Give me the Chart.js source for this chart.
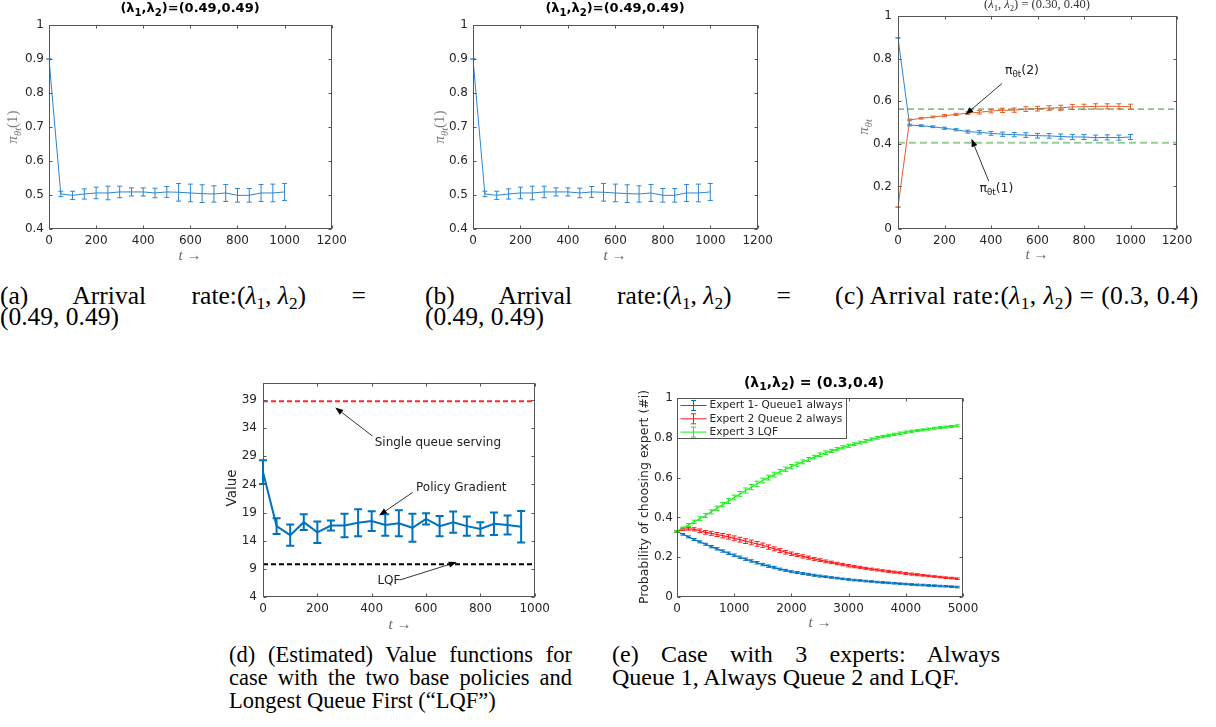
<!DOCTYPE html>
<html>
<head>
<meta charset="utf-8">
<script src="https://cdn.jsdelivr.net/npm/chart.js@4.4.1/dist/chart.umd.min.js"></script>
<style>
  body { margin: 0; background: #fff; width: 1216px; height: 727px; position: relative; overflow: hidden; }
  canvas { position: absolute; }
  .cap { position: absolute; font-family: "Liberation Serif", "DejaVu Serif", serif; color: #000; white-space: nowrap; }
  .cap.top { font-size: 25.5px; line-height: 20.5px; }
  .cap.d { font-size: 22.5px; line-height: 23px; }
  .cap.e { font-size: 24px; line-height: 23px; }
  .cap .j { text-align: justify; text-align-last: justify; }
  .cap .m { display: inline-block; }
  .cap i { font-family: "Liberation Serif", serif; }
  .cap sub { font-size: 0.68em; vertical-align: -0.28em; line-height: 0; }
</style>
</head>
<body>
<canvas id="ca" width="352" height="265" style="left:0;top:0"></canvas>
<canvas id="cb" width="368" height="265" style="left:410px;top:0"></canvas>
<canvas id="cc" width="376" height="265" style="left:840px;top:0"></canvas>
<canvas id="cd" width="345" height="270" style="left:210px;top:370px"></canvas>
<canvas id="ce" width="370" height="270" style="left:615px;top:370px"></canvas>

<div class="cap top" style="left:0;top:286px;width:366px">
  <div class="j">(a) Arrival <span class="m">rate:(<i>λ</i><sub>1</sub>, <i>λ</i><sub>2</sub>)</span> =</div>
  <div>(0.49, 0.49)</div>
</div>
<div class="cap top" style="left:425px;top:286px;width:366px">
  <div class="j">(b) Arrival <span class="m">rate:(<i>λ</i><sub>1</sub>, <i>λ</i><sub>2</sub>)</span> =</div>
  <div>(0.49, 0.49)</div>
</div>
<div class="cap top" style="left:835px;top:286px;letter-spacing:0.4px">
  <div>(c) Arrival rate:(<i>λ</i><sub>1</sub>, <i>λ</i><sub>2</sub>) = (0.3, 0.4)</div>
</div>
<div class="cap d" style="left:229px;top:643px;width:343px">
  <div class="j">(d) (Estimated) Value functions for</div>
  <div class="j">case with the two base policies and</div>
  <div>Longest Queue First (“LQF”)</div>
</div>
<div class="cap e" style="left:612px;top:643px;width:388px">
  <div class="j">(e) Case with 3 experts: Always</div>
  <div>Queue 1, Always Queue 2 and LQF.</div>
</div>

<script>
// ===== DATA =====
// (a), (b): lambda = (0.49, 0.49)
const tA = [0, 50, 100, 150, 200, 250, 300, 350, 400, 450, 500, 550, 600, 650, 700, 750, 800, 850, 900, 950, 1000];
const piA = [0.9, 0.503, 0.499, 0.503, 0.506, 0.506, 0.509, 0.509, 0.509, 0.506, 0.509, 0.508, 0.506, 0.504, 0.503, 0.506, 0.499, 0.499, 0.506, 0.506, 0.509];
const errA = [0, 0.008, 0.012, 0.015, 0.017, 0.02, 0.017, 0.012, 0.012, 0.014, 0.016, 0.026, 0.026, 0.026, 0.024, 0.025, 0.02, 0.02, 0.025, 0.026, 0.025];
const piB = piA;
const errB = errA;
const xTicksAB = [0, 200, 400, 600, 800, 1000, 1200];
const yTicksAB = [0.4, 0.5, 0.6, 0.7, 0.8, 0.9, 1];

// (c): lambda = (0.30, 0.40)
const tC = tA;
const piC1 = [0.897, 0.488, 0.485, 0.48, 0.473, 0.466, 0.457, 0.454, 0.449, 0.445, 0.443, 0.441, 0.438, 0.437, 0.434, 0.432, 0.432, 0.429, 0.43, 0.429, 0.432];
const errC1 = [0, 0.004, 0.004, 0.004, 0.005, 0.005, 0.007, 0.008, 0.009, 0.01, 0.01, 0.011, 0.011, 0.011, 0.012, 0.012, 0.012, 0.012, 0.012, 0.012, 0.012];
const piC2 = [0.103, 0.512, 0.52, 0.526, 0.532, 0.538, 0.544, 0.548, 0.554, 0.557, 0.558, 0.563, 0.565, 0.568, 0.569, 0.573, 0.574, 0.576, 0.576, 0.576, 0.574];
const errC2 = [0, 0.004, 0.004, 0.004, 0.005, 0.005, 0.006, 0.008, 0.009, 0.01, 0.01, 0.011, 0.011, 0.011, 0.012, 0.012, 0.012, 0.012, 0.012, 0.012, 0.012];
const refXC = [0, 1200];
const refC2 = [0.563, 0.563];
const refC1 = [0.405, 0.405];
const xTicksC = [0, 200, 400, 600, 800, 1000, 1200];
const yTicksC = [0, 0.2, 0.4, 0.6, 0.8, 1];

// (d): value functions
const tD = [0, 50, 100, 150, 200, 250, 300, 350, 400, 450, 500, 550, 600, 650, 700, 750, 800, 850, 900, 950];
const valD = [26.2, 16.6, 15.0, 17.3, 15.5, 16.7, 16.7, 17.2, 17.5, 16.8, 17.1, 16.3, 17.9, 16.6, 17.3, 16.6, 16.1, 17.0, 16.8, 16.5];
const errD = [2.1, 1.4, 1.9, 1.4, 1.9, 0.9, 2.1, 2.4, 1.75, 1.9, 2.3, 2.5, 1.0, 1.8, 1.9, 1.7, 1.2, 2.0, 1.7, 2.8];
const refXD = [0, 1000];
const singleQueueD = [38.8, 38.8];
const lqfD = [9.8, 9.8];
const xTicksD = [0, 200, 400, 600, 800, 1000];
const yTicksD = [4, 9, 14, 19, 24, 29, 34, 39];

// (e): three experts
const tE = [0, 100, 200, 300, 400, 500, 600, 700, 800, 900, 1000, 1100, 1200, 1300, 1400, 1500, 1600, 1700, 1800, 1900,
  2000, 2100, 2200, 2300, 2400, 2500, 2600, 2700, 2800, 2900, 3000, 3100, 3200, 3300, 3400, 3500, 3600, 3700, 3800, 3900,
  4000, 4100, 4200, 4300, 4400, 4500, 4600, 4700, 4800, 4900];
const expert1 = [0.330, 0.315, 0.302, 0.289, 0.277, 0.265, 0.253, 0.242, 0.231, 0.220, 0.210, 0.200, 0.190, 0.181, 0.172, 0.163, 0.155, 0.148, 0.140, 0.134,
  0.127, 0.123, 0.118, 0.114, 0.109, 0.105, 0.102, 0.098, 0.095, 0.091, 0.088, 0.085, 0.083, 0.080, 0.078, 0.075, 0.073, 0.071, 0.069, 0.067,
  0.065, 0.063, 0.061, 0.060, 0.058, 0.057, 0.055, 0.054, 0.052, 0.050];
const expert2 = [0.330, 0.340, 0.343, 0.340, 0.333, 0.325, 0.320, 0.314, 0.308, 0.302, 0.295, 0.288, 0.281, 0.274, 0.267, 0.260, 0.251, 0.242, 0.234, 0.225,
  0.217, 0.211, 0.204, 0.198, 0.191, 0.185, 0.179, 0.174, 0.168, 0.163, 0.157, 0.153, 0.149, 0.144, 0.140, 0.136, 0.132, 0.129, 0.125, 0.122,
  0.118, 0.115, 0.112, 0.109, 0.106, 0.103, 0.100, 0.097, 0.095, 0.092];
const expert3 = [0.330, 0.345, 0.362, 0.378, 0.394, 0.410, 0.428, 0.446, 0.464, 0.482, 0.500, 0.518, 0.535, 0.552, 0.569, 0.585, 0.600, 0.615, 0.629, 0.642,
  0.655, 0.667, 0.679, 0.691, 0.703, 0.715, 0.725, 0.734, 0.743, 0.752, 0.760, 0.768, 0.776, 0.784, 0.792, 0.800, 0.806, 0.812, 0.817, 0.823,
  0.828, 0.832, 0.836, 0.840, 0.844, 0.848, 0.851, 0.854, 0.857, 0.860];
const errE1 = [0.004, 0.004, 0.005, 0.005, 0.005, 0.005, 0.006, 0.006, 0.006, 0.006, 0.006, 0.006, 0.006, 0.006, 0.006, 0.006, 0.006, 0.006, 0.005, 0.005,
  0.005, 0.005, 0.005, 0.005, 0.005, 0.005, 0.004, 0.004, 0.004, 0.004, 0.004, 0.004, 0.004, 0.004, 0.004, 0.004, 0.004, 0.004, 0.004, 0.004,
  0.004, 0.004, 0.004, 0.004, 0.004, 0.004, 0.004, 0.004, 0.004, 0.004];
const errE2 = [0.004, 0.006, 0.007, 0.008, 0.009, 0.009, 0.010, 0.010, 0.011, 0.011, 0.012, 0.012, 0.012, 0.012, 0.012, 0.011, 0.011, 0.010, 0.010, 0.009,
  0.009, 0.008, 0.008, 0.008, 0.007, 0.007, 0.007, 0.006, 0.006, 0.006, 0.006, 0.006, 0.005, 0.005, 0.005, 0.005, 0.005, 0.005, 0.005, 0.005,
  0.005, 0.005, 0.005, 0.004, 0.004, 0.004, 0.004, 0.004, 0.004, 0.004];
const errE3 = [0.004, 0.006, 0.007, 0.008, 0.009, 0.010, 0.010, 0.011, 0.011, 0.012, 0.012, 0.012, 0.013, 0.013, 0.013, 0.012, 0.012, 0.012, 0.011, 0.011,
  0.011, 0.010, 0.010, 0.010, 0.009, 0.009, 0.009, 0.008, 0.008, 0.008, 0.008, 0.007, 0.007, 0.007, 0.007, 0.007, 0.006, 0.006, 0.006, 0.006,
  0.006, 0.006, 0.005, 0.005, 0.005, 0.005, 0.005, 0.005, 0.005, 0.005];
const expertLabels = ['Expert 1- Queue1 always', 'Expert 2 Queue 2 always', 'Expert 3 LQF'];
const xTicksE = [0, 1000, 2000, 3000, 4000, 5000];
const yTicksE = [0, 0.2, 0.4, 0.6, 0.8, 1];

// ===== HELPERS =====
const SANS = '"DejaVu Sans", sans-serif';
const SERIF = '"Liberation Serif", "DejaVu Serif", serif';
const TICK = '#262626';

function pts(xs, ys) {
    return xs.map((x, i) => ({ x: x, y: ys[i] }));
}

function fmt(v) {
    return String(Math.round(v * 100) / 100);
}

function axes(c) {
    return {
        x: {
            type: 'linear', min: c.xmin, max: c.xmax,
            grid: { display: false, drawTicks: false }, border: { display: false },
            afterBuildTicks: s => { s.ticks = c.xt.map(v => ({ value: v })); },
            afterFit: s => { s.height = c.xh; },
            ticks: { color: TICK, font: { family: SANS, size: 12 }, padding: 5, maxRotation: 0, autoSkip: false, callback: fmt }
        },
        y: {
            type: 'linear', min: c.ymin, max: c.ymax,
            grid: { display: false, drawTicks: false }, border: { display: false },
            afterBuildTicks: s => { s.ticks = c.yt.map(v => ({ value: v })); },
            afterFit: s => { s.width = c.yw; },
            ticks: { color: TICK, font: { family: SANS, size: 12 }, padding: c.yp, autoSkip: false, callback: fmt }
        }
    };
}

// rich text with subscripts: parts = [[text, 's' for subscript, italic]]
function richText(ctx, t, x, y) {
    ctx.save();
    ctx.translate(x, y);
    if (t.rot) ctx.rotate(t.rot);
    ctx.fillStyle = t.color || '#000';
    ctx.textBaseline = 'middle';
    ctx.textAlign = 'left';
    const sr = t.subRatio || 0.7;
    const font = (s, it) => `${it ? 'italic ' : ''}${t.weight || 'normal'} ${s}px ${t.family || SANS}`;
    const size = p => p[1] === 's' ? t.size * sr : t.size;
    let w = 0;
    t.parts.forEach(p => { ctx.font = font(size(p), p[2]); w += ctx.measureText(p[0]).width; });
    let cx = t.align === 'left' ? 0 : -w / 2;
    t.parts.forEach(p => {
        ctx.font = font(size(p), p[2]);
        ctx.fillText(p[0], cx, p[1] === 's' ? t.size * 0.32 : 0);
        cx += ctx.measureText(p[0]).width;
    });
    ctx.restore();
}

function arrow(ctx, x1, y1, x2, y2) {
    const a = Math.atan2(y2 - y1, x2 - x1);
    ctx.beginPath();
    ctx.moveTo(x1, y1);
    ctx.lineTo(x2 - 5 * Math.cos(a), y2 - 5 * Math.sin(a));
    ctx.stroke();
    ctx.beginPath();
    ctx.moveTo(x2, y2);
    ctx.lineTo(x2 - 8 * Math.cos(a) + 3 * Math.sin(a), y2 - 8 * Math.sin(a) - 3 * Math.cos(a));
    ctx.lineTo(x2 - 8 * Math.cos(a) - 3 * Math.sin(a), y2 - 8 * Math.sin(a) + 3 * Math.cos(a));
    ctx.closePath();
    ctx.fill();
}

// ===== PLUGINS =====
const errorBars = {
    id: 'errorBars',
    afterDatasetsDraw(chart) {
        const ctx = chart.ctx, xs = chart.scales.x, ys = chart.scales.y;
        chart.data.datasets.forEach(ds => {
            if (!ds.err) return;
            ctx.save();
            ctx.strokeStyle = ds.borderColor;
            ctx.lineWidth = ds.errWidth || 1;
            const c = ds.cap || 2.5;
            ds.data.forEach((p, j) => {
                const px = xs.getPixelForValue(p.x);
                const lo = ys.getPixelForValue(p.y - ds.err[j]);
                const hi = ys.getPixelForValue(p.y + ds.err[j]);
                ctx.beginPath();
                ctx.moveTo(px, lo); ctx.lineTo(px, hi);
                ctx.moveTo(px - c, lo); ctx.lineTo(px + c, lo);
                ctx.moveTo(px - c, hi); ctx.lineTo(px + c, hi);
                ctx.stroke();
            });
            ctx.restore();
        });
    }
};

const decor = {
    id: 'decor',
    afterDraw(chart, args, o) {
        const ctx = chart.ctx, xs = chart.scales.x, ys = chart.scales.y, a = chart.chartArea;
        // MATLAB style box with inward ticks
        ctx.save();
        ctx.strokeStyle = '#555';
        ctx.lineWidth = 1;
        const L = Math.round(a.left) + 0.5, R = Math.round(a.right) - 0.5;
        const T = Math.round(a.top) + 0.5, B = Math.round(a.bottom) - 0.5;
        ctx.strokeRect(L, T, R - L, B - T);
        ctx.beginPath();
        xs.ticks.forEach(t => {
            const px = Math.round(xs.getPixelForValue(t.value)) + 0.5;
            ctx.moveTo(px, B); ctx.lineTo(px, B - 3);
            ctx.moveTo(px, T); ctx.lineTo(px, T + 3);
        });
        ys.ticks.forEach(t => {
            const py = Math.round(ys.getPixelForValue(t.value)) + 0.5;
            ctx.moveTo(L, py); ctx.lineTo(L + 3, py);
            ctx.moveTo(R, py); ctx.lineTo(R - 3, py);
        });
        ctx.stroke();
        ctx.restore();

        // arrows in data coordinates
        ctx.save();
        ctx.strokeStyle = '#000';
        ctx.fillStyle = '#000';
        ctx.lineWidth = 0.8;
        (o.arrows || []).forEach(r => {
            arrow(ctx, xs.getPixelForValue(r[0]), ys.getPixelForValue(r[1]),
                xs.getPixelForValue(r[2]), ys.getPixelForValue(r[3]));
        });
        ctx.restore();

        // texts: data coords when t.data, otherwise page coords
        (o.texts || []).forEach(t => {
            const x = t.data ? xs.getPixelForValue(t.x) : t.x - o.ox;
            const y = t.data ? ys.getPixelForValue(t.y) : t.y - o.oy;
            richText(ctx, t, x, y);
        });

        // legend box
        if (o.legend) {
            const g = o.legend;
            const x0 = Math.round(a.left) + 0.5, y0 = Math.round(a.top) + 0.5;
            ctx.save();
            ctx.fillStyle = '#fff';
            ctx.fillRect(x0, y0, g.w, g.h);
            ctx.strokeStyle = '#555';
            ctx.lineWidth = 1;
            ctx.strokeRect(x0, y0, g.w, g.h);
            ctx.font = `${g.size}px ${SANS}`;
            ctx.textBaseline = 'middle';
            chart.data.datasets.forEach((ds, i) => {
                const yy = y0 + g.first + i * g.row;
                ctx.strokeStyle = ds.borderColor;
                ctx.beginPath();
                ctx.moveTo(x0 + 3, yy); ctx.lineTo(x0 + 29, yy);
                ctx.moveTo(x0 + 16, yy - 5); ctx.lineTo(x0 + 16, yy + 5);
                ctx.moveTo(x0 + 13.5, yy - 5); ctx.lineTo(x0 + 18.5, yy - 5);
                ctx.moveTo(x0 + 13.5, yy + 5); ctx.lineTo(x0 + 18.5, yy + 5);
                ctx.stroke();
                ctx.fillStyle = '#262626';
                ctx.fillText(ds.label, x0 + 32, yy);
            });
            ctx.restore();
        }
    }
};

function baseOptions(c, deco) {
    return {
        responsive: false,
        animation: false,
        devicePixelRatio: 1,
        layout: { padding: { top: c.pt, right: c.pr, left: 0, bottom: 0 } },
        scales: axes(c),
        plugins: { legend: { display: false }, tooltip: { enabled: false }, decor: deco },
        elements: { point: { radius: 0 }, line: { tension: 0 } }
    };
}

function lineSet(label, xs, ys, color, width, err, extra) {
    return Object.assign({
        label: label, data: pts(xs, ys), borderColor: color, backgroundColor: color,
        borderWidth: width, pointRadius: 0, fill: false, err: err
    }, extra || {});
}

const tLabel = (x, y) => ({ parts: [['t', '', true], [' →', '']], x: x, y: y, size: 15, family: SERIF, color: '#666' });
const piLabel = (x, y, tail) => ({
    parts: [['π', '', true], ['θ', 's', true], ['t', 's', true], [tail, '']],
    x: x, y: y, size: 15, family: SERIF, color: '#777', rot: -Math.PI / 2
});
const boldLambdaTitle = (x, y, rest, size) => ({
    parts: [['(λ', ''], ['1', 's'], [',λ', ''], ['2', 's'], [rest, '']],
    x: x, y: y, size: size, weight: 'bold', color: '#000', subRatio: 0.78
});

const BLUE = '#2c86cf';

// ===== (a) =====
new Chart(document.getElementById('ca'), {
    type: 'line',
    data: { datasets: [lineSet('pi1', tA, piA, BLUE, 1, errA)] },
    options: baseOptions(
        { xmin: 0, xmax: 1200, xt: xTicksAB, ymin: 0.4, ymax: 1, yt: yTicksAB, yw: 49, xh: 36, yp: 5, pt: 25, pr: 20 },
        { ox: 0, oy: 0, texts: [boldLambdaTitle(190, 9, ')=(0.49,0.49)', 13), piLabel(13, 127, '(1)'), tLabel(190, 256)] }
    ),
    plugins: [errorBars, decor]
});

// ===== (b) =====
new Chart(document.getElementById('cb'), {
    type: 'line',
    data: { datasets: [lineSet('pi1', tA, piB, BLUE, 1, errB)] },
    options: baseOptions(
        { xmin: 0, xmax: 1200, xt: xTicksAB, ymin: 0.4, ymax: 1, yt: yTicksAB, yw: 63, xh: 36, yp: 5, pt: 25, pr: 20 },
        { ox: 410, oy: 0, texts: [boldLambdaTitle(615, 9, ')=(0.49,0.49)', 13), piLabel(440, 127, '(1)'), tLabel(615, 256)] }
    ),
    plugins: [errorBars, decor]
});

// ===== (c) =====
new Chart(document.getElementById('cc'), {
    type: 'line',
    data: {
        datasets: [
            lineSet('ref2', refXC, refC2, '#3a8a3a', 1, null, { borderDash: [6, 4] }),
            lineSet('ref1', refXC, refC1, '#96cf96', 2, null, { borderDash: [7, 4] }),
            lineSet('pi1', tC, piC1, '#2c86cf', 1, errC1),
            lineSet('pi2', tC, piC2, '#e0602a', 1, errC2)
        ]
    },
    options: baseOptions(
        { xmin: 0, xmax: 1200, xt: xTicksC, ymin: 0, ymax: 1, yt: yTicksC, yw: 58, xh: 36, yp: 6, pt: 16, pr: 39 },
        {
            ox: 840, oy: 0,
            arrows: [[447, 0.683, 290, 0.537], [390, 0.225, 316, 0.424]],
            texts: [
                { parts: [['(', ''], ['λ', '', true], ['1', 's'], [', ', ''], ['λ', '', true], ['2', 's'], [') = (0.30, 0.40)', '']],
                  x: 1037, y: 5, size: 12.5, family: SERIF, color: '#333' },
                { parts: [['π', '', true], ['θ', 's', true], ['t', 's', true]], x: 864, y: 127, size: 15, family: SERIF, color: '#777', rot: -Math.PI / 2 },
                tLabel(1037, 255),
                { data: true, parts: [['π', ''], ['θ', 's'], ['t', 's'], ['(2)', '']], x: 460, y: 0.745, size: 12.5, color: '#222', align: 'left' },
                { data: true, parts: [['π', ''], ['θ', 's'], ['t', 's'], ['(1)', '']], x: 350, y: 0.187, size: 12.5, color: '#222', align: 'left' }
            ]
        }
    ),
    plugins: [errorBars, decor]
});

// ===== (d) =====
new Chart(document.getElementById('cd'), {
    type: 'line',
    data: {
        datasets: [
            lineSet('Single queue serving', refXD, singleQueueD, '#ff2a2a', 2, null, { borderDash: [5, 3] }),
            lineSet('LQF', refXD, lqfD, '#000', 2, null, { borderDash: [5, 3] }),
            lineSet('Policy Gradient', tD, valD, '#0072BD', 2, errD, { errWidth: 2, cap: 4 })
        ]
    },
    options: baseOptions(
        { xmin: 0, xmax: 1000, xt: xTicksD, ymin: 4, ymax: 42, yt: yTicksD, yw: 53, xh: 43, yp: 6, pt: 9, pr: 18 },
        {
            ox: 210, oy: 370,
            arrows: [[403, 32.6, 266, 37.7], [551, 22.6, 427, 18.5], [502, 7.0, 713, 10.2]],
            texts: [
                { parts: [['Value', '']], x: 232, y: 488, size: 13.5, color: '#262626', rot: -Math.PI / 2 },
                tLabel(400, 625),
                { data: true, parts: [['Single queue serving', '']], x: 411, y: 31.4, size: 12, color: '#222', align: 'left' },
                { data: true, parts: [['Policy Gradient', '']], x: 563, y: 23.4, size: 12, color: '#222', align: 'left' },
                { data: true, parts: [['LQF', '']], x: 421, y: 6.85, size: 12, color: '#222', align: 'left' }
            ]
        }
    ),
    plugins: [errorBars, decor]
});

// ===== (e) =====
new Chart(document.getElementById('ce'), {
    type: 'line',
    data: {
        datasets: [
            lineSet(expertLabels[0], tE, expert1, '#0072BD', 1.2, errE1),
            lineSet(expertLabels[1], tE, expert2, '#ff1a1a', 1.2, errE2),
            lineSet(expertLabels[2], tE, expert3, '#1aee1a', 1.2, errE3)
        ]
    },
    options: baseOptions(
        { xmin: 0, xmax: 5000, xt: xTicksE, ymin: 0, ymax: 1, yt: yTicksE, yw: 62, xh: 43, yp: 4, pt: 28, pr: 22 },
        {
            ox: 615, oy: 370,
            legend: { w: 169, h: 40, first: 7, row: 13.3, size: 10.6 },
            texts: [
                boldLambdaTitle(814, 383, ') = (0.3,0.4)', 14),
                { parts: [['Probability of choosing expert (#i)', '']], x: 645, y: 497, size: 12.5, color: '#262626', rot: -Math.PI / 2 },
                tLabel(820, 623)
            ]
        }
    ),
    plugins: [errorBars, decor]
});
</script>
</body>
</html>
